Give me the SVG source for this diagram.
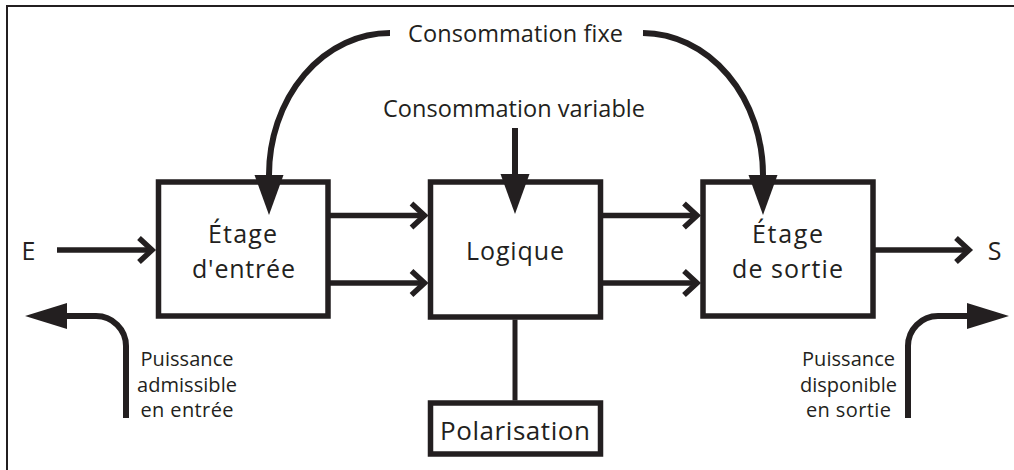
<svg xmlns="http://www.w3.org/2000/svg" width="1014" height="470" viewBox="0 0 1014 470">
<style>
  .box { fill: #ffffff; stroke: #231f20; stroke-width: 5.5; }
  .ln { fill: none; stroke: #231f20; stroke-width: 5.5; }
  .thick { fill: none; stroke: #231f20; stroke-width: 6; }
  .frame { fill: none; stroke: #231f20; stroke-width: 2; }
  text { font-family: "Open Sans", "DejaVu Sans", sans-serif; fill: #231f20; text-anchor: middle; }
  .big { font-size: 25px; }
  .lab { font-size: 23.5px; }
  .small { font-size: 20px; }
</style>
<defs>
  <marker id="chev" markerUnits="userSpaceOnUse" markerWidth="40" markerHeight="40" viewBox="-20 -20 40 40" refX="0" refY="0" orient="auto" overflow="visible">
    <path d="M-13,-12 L0,0 L-13,12" fill="none" stroke="#231f20" stroke-width="5.5"/>
  </marker>
  <marker id="tri" markerUnits="userSpaceOnUse" markerWidth="50" markerHeight="40" viewBox="-5 -20 50 40" refX="0" refY="0" orient="auto" overflow="visible">
    <path d="M0,-14.5 L40,0 L0,14.5 Z" fill="#231f20"/>
  </marker>
  <marker id="tri2" markerUnits="userSpaceOnUse" markerWidth="50" markerHeight="40" viewBox="-5 -20 50 40" refX="0" refY="0" orient="auto" overflow="visible">
    <path d="M0,-13 L42,0 L0,13 Z" fill="#231f20"/>
  </marker>
</defs>
<rect width="1014" height="470" fill="#ffffff"/>
<path class="frame" d="M7,470 V6 H1014"/>

<g id="etage-entree">
  <rect class="box" x="158.5" y="182" width="169.5" height="134"/>
  <text class="big" x="242.5" y="242.5" textLength="69">Étage</text>
  <text class="big" x="243.5" y="278" textLength="103">d'entrée</text>
</g>
<g id="logique">
  <rect class="box" x="430.5" y="182" width="170" height="135"/>
  <text class="big" x="515" y="260" textLength="98">Logique</text>
</g>
<g id="etage-sortie">
  <rect class="box" x="703" y="182" width="170" height="134"/>
  <text class="big" x="787.5" y="242.5" textLength="71">Étage</text>
  <text class="big" x="787.5" y="278" textLength="111">de sortie</text>
</g>
<g id="polarisation">
  <rect class="box" x="430.5" y="403" width="170" height="51"/>
  <text style="font-size:26px" x="515" y="440" textLength="150">Polarisation</text>
</g>

<g id="connectors">
  <path class="thick" d="M390,33 A121,142 0 0 0 269,175" marker-end="url(#tri)"/>
  <path class="thick" d="M643,33 A121,142 0 0 1 763,175" marker-end="url(#tri)"/>
  <path class="thick" d="M515,128 V174" marker-end="url(#tri)"/>
  <path class="ln" d="M57,250 H152" marker-end="url(#chev)"/>
  <path class="ln" d="M330,215.5 H424.5" marker-end="url(#chev)"/>
  <path class="ln" d="M330,283 H424.5" marker-end="url(#chev)"/>
  <path class="ln" d="M603,215.5 H697" marker-end="url(#chev)"/>
  <path class="ln" d="M603,283 H697" marker-end="url(#chev)"/>
  <path class="ln" d="M875,250 H969" marker-end="url(#chev)"/>
  <path class="ln" d="M515,319.5 V400.5" style="stroke-width:5"/>
  <path class="thick" d="M126,418 V346 A30,30 0 0 0 96,316 H67" marker-end="url(#tri2)"/>
  <path class="thick" d="M908,418 V346 A30,30 0 0 1 938,316 H967" marker-end="url(#tri2)"/>
</g>

<g id="labels">
  <text class="lab" x="515.5" y="42" textLength="215">Consommation fixe</text>
  <text class="lab" x="514" y="117" textLength="262">Consommation variable</text>
  <text class="big" x="28.5" y="260">E</text>
  <text class="big" x="994.5" y="260">S</text>
  <text class="small" x="187" y="366" textLength="93">Puissance</text>
  <text class="small" x="187" y="391.5" textLength="100">admissible</text>
  <text class="small" x="187" y="416.5" textLength="93">en entrée</text>
  <text class="small" x="848.5" y="366" textLength="93">Puissance</text>
  <text class="small" x="848.5" y="391.5" textLength="97">disponible</text>
  <text class="small" x="848.5" y="416.5" textLength="85">en sortie</text>
</g>
</svg>
